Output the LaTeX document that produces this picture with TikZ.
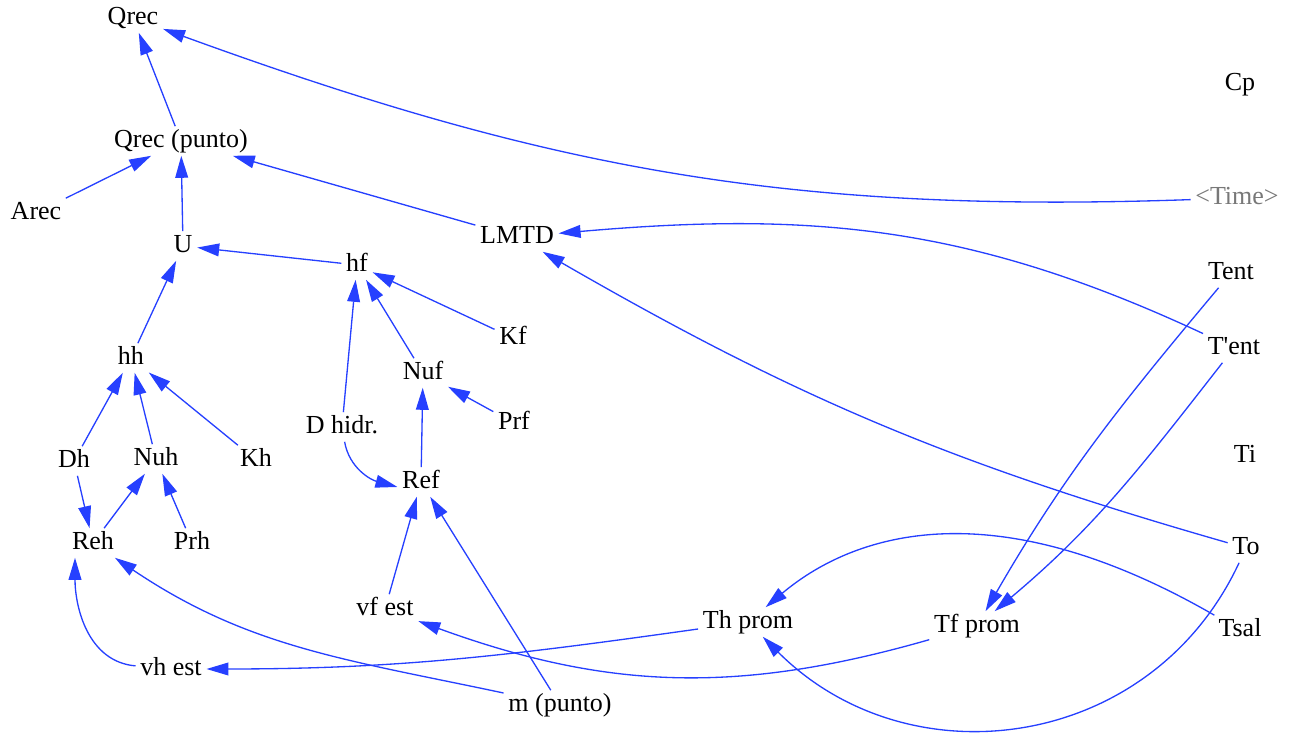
\documentclass[tikz,border=0pt]{standalone}
\usepackage{fontspec}
\setmainfont{Liberation Serif}
\usetikzlibrary{arrows.meta}
\definecolor{linkblue}{RGB}{38,64,255}
\definecolor{timegray}{RGB}{120,120,120}

\begin{document}
\begin{tikzpicture}[x=0.25pt,y=0.25pt,
    var/.style={inner sep=1pt,text height=4.25pt,text depth=0.75pt,font=\fontsize{6.5}{7.5}\selectfont},
    link/.style={draw=linkblue,line width=0.33pt,-{Triangle[length=5.5pt,width=3.2pt]}}]
    \useasboundingbox (0,0) rectangle (1290,740);
    \node[var] (Qrec) at (133,722) {Qrec};
    \node[var] (Qrecp) at (181,599) {Qrec (punto)};
    \node[var] (Arec) at (36,527) {Arec};
    \node[var] (U) at (183,494) {U};
    \node[var] (hf) at (357,475) {hf};
    \node[var] (LMTD) at (517,503) {LMTD};
    \node[var] (Cp) at (1240,656) {Cp};
    \node[var,text=timegray] (Time) at (1237,542) {<Time>};
    \node[var] (Tent) at (1231,467) {Tent};
    \node[var] (Tentp) at (1234,392) {T\textquotesingle ent};
    \node[var] (Ti) at (1245,284) {Ti};
    \node[var] (To) at (1246,192) {To};
    \node[var] (Tsal) at (1240,110) {Tsal};
    \node[var] (Kf) at (513,402) {Kf};
    \node[var] (Nuf) at (423,367) {Nuf};
    \node[var] (hh) at (131,382) {hh};
    \node[var] (Dh) at (74,279) {Dh};
    \node[var] (Nuh) at (156,281) {Nuh};
    \node[var] (Kh) at (256,280) {Kh};
    \node[var] (Dhidr) at (342,313) {D hidr.};
    \node[var] (Prf) at (514,317) {Prf};
    \node[var] (Ref) at (421,258) {Ref};
    \node[var] (Reh) at (93,197) {Reh};
    \node[var] (Prh) at (192,197) {Prh};
    \node[var] (vfest) at (385,131) {vf est};
    \node[var] (Thprom) at (748,118) {Th prom};
    \node[var] (Tfprom) at (977,114) {Tf prom};
    \node[var] (vhest) at (171,71) {vh est};
    \node[var] (mpunto) at (560,35) {m (punto)};

    \draw[link] (Qrecp) -- (Qrec);
    \draw[link] (Time) to[out=182,in=-20] (Qrec);
    \draw[link] (Arec) -- (Qrecp);
    \draw[link] (U) -- (Qrecp);
    \draw[link] (LMTD) -- (Qrecp);
    \draw[link] (hf) -- (U);
    \draw[link] (Tentp) to[out=155,in=5] (LMTD);
    \draw[link] (To) to[out=164,in=-30] (LMTD);
    \draw[link] (hh) -- (U);
    \draw[link] (Dhidr) -- (hf);
    \draw[link] (Nuf) -- (hf);
    \draw[link] (Kf) -- (hf);
    \draw[link] (Prf) -- (Nuf);
    \draw[link] (Ref) -- (Nuf);
    \draw[link] (Dhidr) to[out=-80,in=165] ([yshift=-1.25pt]Ref.west);
    \draw[link] (Dh) -- (hh);
    \draw[link] (Nuh) -- (hh);
    \draw[link] (Kh) -- (hh);
    \draw[link] (Dh) -- (Reh);
    \draw[link] (Reh) -- (Nuh);
    \draw[link] (Prh) -- (Nuh);
    \draw[link] (vfest) -- (Ref);
    \draw[link] (mpunto) -- (Ref);
    \draw[link] (mpunto) to[out=168,in=-34] (Reh);
    \draw[link] (vhest) to[out=175,in=-90] ([xshift=-4.5pt]Reh.south);
    \draw[link] (Thprom) to[out=188,in=0] (vhest);
    \draw[link] (Tfprom) to[out=196,in=-20] (vfest);
    \draw[link] (Tent) to[out=230,in=60] (Tfprom);
    \draw[link] (Tentp) to[out=232,in=40] (Tfprom);
    \draw[link] (Tsal) to[out=150,in=40,out looseness=1.4,in looseness=0.7] (Thprom);
    \draw[link] (To) to[out=245,in=-45,looseness=1.1] (Thprom);
\end{tikzpicture}
\end{document}
